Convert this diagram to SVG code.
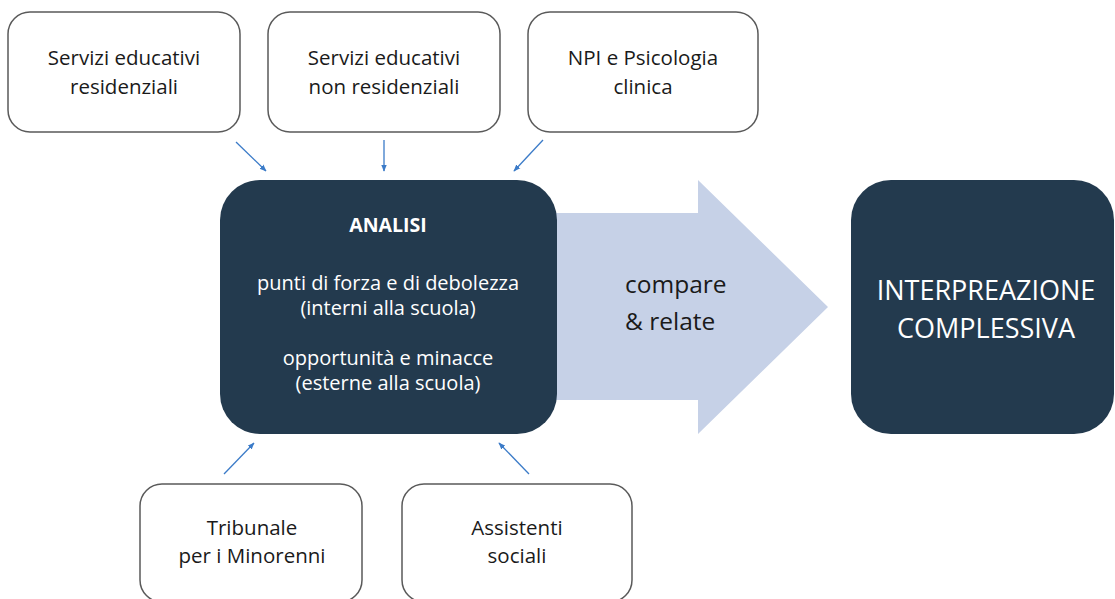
<svg xmlns="http://www.w3.org/2000/svg" width="1115" height="599" viewBox="0 0 1115 599">
<defs>
<marker id="ah" viewBox="0 0 10 10" refX="9" refY="5" markerWidth="7" markerHeight="7" markerUnits="userSpaceOnUse" orient="auto">
<path d="M0,1 L10,5 L0,9 z" fill="#3B7BC8"/>
</marker>
<style>
.src{fill:#fff;stroke:#5a5a5a;stroke-width:1.5}
.dark{fill:#233A4E}
.t{font-family:"Open Sans","Liberation Sans",sans-serif;font-size:20.5px;fill:#1a1a1a;text-anchor:middle}
.w{font-family:"Open Sans","Liberation Sans",sans-serif;font-size:20px;fill:#fff;text-anchor:middle}
.conn{stroke:#3B7BC8;stroke-width:1.3;fill:none;marker-end:url(#ah)}
</style>
</defs>
<rect width="1115" height="599" fill="#fff"/>
<g id="n-res">
<rect class="src" x="8" y="12" width="232" height="120" rx="22"/>
<text class="t" x="124" y="65">Servizi educativi</text>
<text class="t" x="124" y="94">residenziali</text>
</g>
<g id="n-nonres">
<rect class="src" x="268" y="12" width="232" height="120" rx="22"/>
<text class="t" x="384" y="65">Servizi educativi</text>
<text class="t" x="384" y="94">non residenziali</text>
</g>
<g id="n-npi">
<rect class="src" x="528" y="12" width="230" height="120" rx="22"/>
<text class="t" x="643" y="65">NPI e Psicologia</text>
<text class="t" x="643" y="94">clinica</text>
</g>
<g id="n-trib">
<rect class="src" x="140" y="484" width="222" height="118" rx="22"/>
<text class="t" x="252" y="535">Tribunale</text>
<text class="t" x="252" y="563">per i Minorenni</text>
</g>
<g id="n-ass">
<rect class="src" x="402" y="484" width="230" height="118" rx="22"/>
<text class="t" x="517" y="535">Assistenti</text>
<text class="t" x="517" y="563">sociali</text>
</g>
<g id="n-compare">
<path d="M550,213 L698,213 L698,180 L828,307 L698,434 L698,400 L550,400 Z" fill="#C6D1E7"/>
<text class="t" x="625" y="293" style="text-anchor:start;font-size:24.5px">compare</text>
<text class="t" x="625" y="330" style="text-anchor:start;font-size:24.5px">&amp; relate</text>
</g>
<g id="n-analisi">
<rect class="dark" x="220" y="180" width="337" height="254" rx="40"/>
<text class="w" x="388" y="232" font-weight="bold" style="font-size:19.5px">ANALISI</text>
<text class="w" x="388" y="290">punti di forza e di debolezza</text>
<text class="w" x="388" y="315">(interni alla scuola)</text>
<text class="w" x="388" y="365">opportunità e minacce</text>
<text class="w" x="388" y="390">(esterne alla scuola)</text>
</g>
<g id="n-interp">
<rect class="dark" x="851" y="180" width="263" height="254" rx="40"/>
<text class="w" x="986" y="300" style="font-size:27px">INTERPREAZIONE</text>
<text class="w" x="986" y="338" style="font-size:27px">COMPLESSIVA</text>
</g>
<g id="connectors">
<line class="conn" x1="236" y1="142" x2="266" y2="171"/>
<line class="conn" x1="384" y1="140" x2="384" y2="171"/>
<line class="conn" x1="543" y1="140" x2="514" y2="171"/>
<line class="conn" x1="224" y1="474" x2="254" y2="443"/>
<line class="conn" x1="529" y1="474" x2="499" y2="443"/>
</g>
</svg>
